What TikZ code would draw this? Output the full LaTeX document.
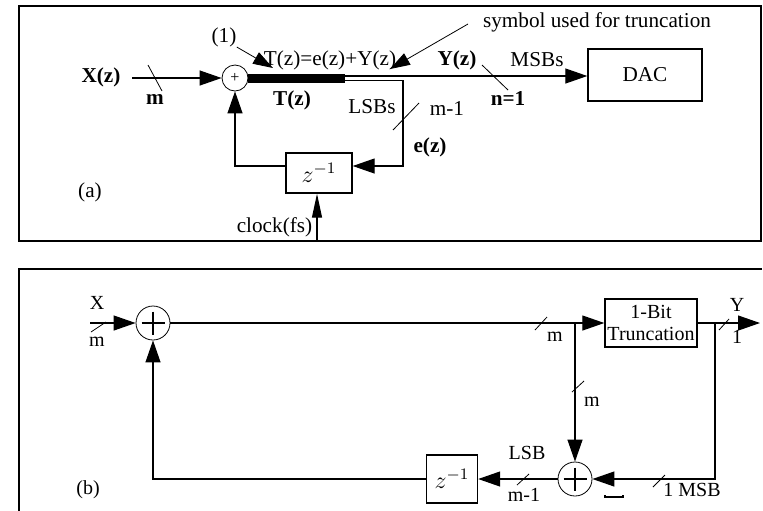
\documentclass[tikz,border=0pt]{standalone}
\usepackage{fontspec}
\setmainfont{Liberation Serif}
\usetikzlibrary{arrows.meta}
\begin{document}
\begin{tikzpicture}[x=0.5pt,y=-0.5pt,
  ln/.style={line width=0.6pt},
  arr/.style={ln,-{Triangle[length=11pt,width=7.5pt]}},
  arrc/.style={ln,-{Triangle[length=12pt,width=5pt]}},
  arrs/.style={line width=0.4pt,-{Triangle[length=10pt,width=6.5pt]}},
  lbl/.style={inner sep=0pt,font=\fontsize{10}{11}\selectfont},
  lbla/.style={inner sep=0pt,font=\fontsize{10.6}{12}\selectfont},
  blk/.style={draw,line width=0.7pt,inner sep=0pt},
  slash/.style={line width=0.4pt},
  frame/.style={line width=1pt},
  sumc/.style={circle,draw,line width=0.4pt,inner sep=0pt}]
\useasboundingbox (0,0) rectangle (763,510);

% ---------------- panel (a) ----------------
\draw[frame] (19,6) rectangle (761,241);
\node[sumc,minimum size=13pt] (sa) at (235,78) {\fontsize{8}{8}\selectfont +};
\node[lbla] (xa) at (101,77) {\textbf{X(z)}};
\coordinate (xin) at (132,78);
\draw[arr] (xin) -- (sa.west);
\draw[slash] (148,65) -- (162,91);
\node[lbla] (ma) at (155,99) {\textbf{m}};

\node[blk,minimum width=57pt,minimum height=26pt,font=\fontsize{10.6}{12}\selectfont] (dac) at (645,75) {DAC};
\node[blk,minimum width=33pt,minimum height=20pt] (za) at (319,173) {\large $z^{-1}$};

\coordinate (tk) at (345,78.5);
\coordinate (tt) at (345,76);
\coordinate (tb) at (345,80.5);
\coordinate (br) at (403,80.5);
\coordinate (brd) at (403,166);
\draw[line width=4.5pt] (sa.east |- tk) -- (tk);
\draw[arr] (tt) -- (tt -| dac.west);
\draw[arr] (tb) -- (br) -- (brd) -- (za.east |- brd);
\draw[arr] (za.west |- brd) -| (sa.south);

\coordinate (clk) at (317,241);
\draw[arrc] (clk) -- (clk |- za.south);
\node[lbla] (clkl) at (274.5,227) {clock(fs)};
\node[lbla] (la) at (90,192) {(a)};

\node[lbla] (one) at (224,37) {(1)};
\coordinate (onet) at (273,68);
\draw[arrs] (one.south east) -- (onet);
\node[lbla] (teq) at (330,60) {T(z)=e(z)+Y(z)};
\node[lbla] (tz) at (292,100) {\textbf{T(z)}};
\node[lbla] (lsbs) at (372,107) {LSBs};
\draw[slash] (393,130) -- (419,103);
\node[lbla] (mm1) at (447,108) {m-1};
\node[lbla] (ez) at (430,147) {\textbf{e(z)}};
\node[lbla] (sym) at (597,22) {symbol used for truncation};
\coordinate (symt) at (390,69);
\draw[arrs] (468,24) -- (symt);
\node[lbla] (yz) at (457,60) {\textbf{Y(z)}};
\draw[slash] (482,65) -- (508,90);
\node[lbla] (n1) at (508,98) {\textbf{n=1}};
\node[lbla] (msbs) at (537,60) {MSBs};

% ---------------- panel (b) ----------------
\draw[frame] (19,512) -- (19,269) -- (762,269);
\node[sumc,minimum size=17pt] (sb1) at (153,323) {};
\draw[ln] ([shift={(-11.5,0)}]sb1.center) -- ([shift={(11.5,0)}]sb1.center);
\draw[ln] ([shift={(0,-11.5)}]sb1.center) -- ([shift={(0,11.5)}]sb1.center);
\node[sumc,minimum size=17pt] (sb2) at (575,479) {};
\draw[ln] ([shift={(-11.5,0)}]sb2.center) -- ([shift={(11.5,0)}]sb2.center);
\draw[ln] ([shift={(0,-11.5)}]sb2.center) -- ([shift={(0,11.5)}]sb2.center);

\node[lbl] (xb) at (97,303) {X};
\node[lbl] (mb) at (97,342) {m};
\coordinate (xbin) at (90,323);
\draw[arr] (xbin) -- (sb1.west);
\draw[slash] (91,332) -- (106,322);

\node[blk,minimum width=46pt,minimum height=24pt,align=center,
      font=\fontsize{10}{11}\selectfont] (trb) at (651,323) {1-Bit\\Truncation};
\draw[arr] (sb1.east) -- (trb.west);
\draw[slash] (535,330) -- (547,317);
\node[lbl] (mb2) at (555,337) {m};

\coordinate (bp) at (575,323);
\draw[arr] (bp) -- (sb2.north);
\draw[slash] (572,392) -- (584,381);
\node[lbl] (mb3) at (592,402) {m};

\coordinate (yout) at (760,323);
\draw[arr] (trb.east) -- (yout);
\draw[slash] (719,330) -- (729,319);
\node[lbl] (yb) at (737,305) {Y};
\node[lbl] (oneb) at (737,337) {1};

\coordinate (rb) at (715,323);
\draw[arr] (rb) |- (sb2.east);
\draw[slash] (653,487) -- (665,475);
\node[lbl] (msb) at (692,490) {1 MSB};
\draw[line width=0.6pt] (605,495) -- (605,497) -- (623,497) -- (623,495);

\node[blk,minimum width=25.5pt,minimum height=24pt] (zb) at (452,479) {\large $z^{-1}$};
\draw[arr] (sb2.west) -- (zb.east);
\draw[slash] (517,485) -- (529,474);
\node[lbl] (mm1b) at (524,495) {m-1};
\node[lbl] (lsb) at (527,453) {LSB};
\draw[arr] (zb.west) -| (sb1.south);
\node[lbl] (lb) at (88,490) {(b)};
\end{tikzpicture}
\end{document}
